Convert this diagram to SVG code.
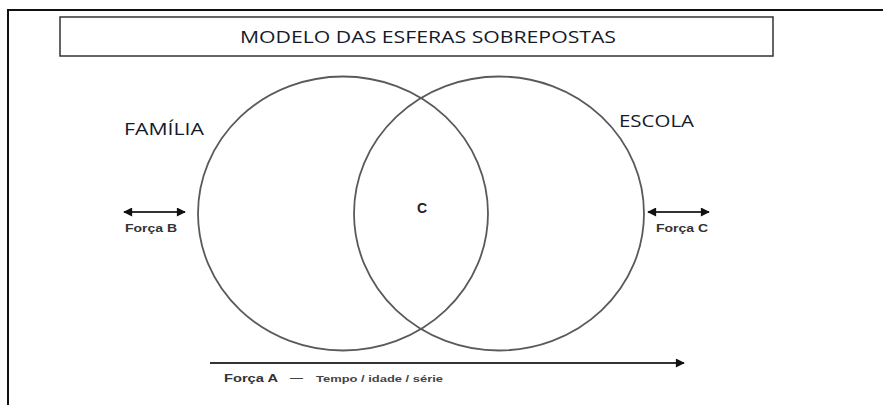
<svg xmlns="http://www.w3.org/2000/svg" width="883" height="405" viewBox="0 0 883 405">
<style>
.frame{fill:none;stroke:#111;stroke-width:2}
.sphere{fill:none;stroke:#5a5a5a;stroke-width:1.8}
.head{font-family:"Open Sans","Liberation Sans",sans-serif;font-size:16px;fill:#141a2a}
.force{font-family:"Liberation Sans",Arial,sans-serif;font-weight:bold;font-size:10px;fill:#333}
.small{font-family:"Liberation Sans",Arial,sans-serif;font-weight:bold;font-size:8.5px;fill:#444}
.conn{stroke:#333;stroke-width:1.8;fill:none}
</style>
<defs>
<marker id="ah" viewBox="0 0 10 10" refX="9" refY="5" markerWidth="6.5" markerHeight="5" orient="auto-start-reverse" markerUnits="strokeWidth">
<path d="M0,0 L10,5 L0,10 z" fill="#111"/>
</marker>
</defs>
<rect width="883" height="405" fill="#fff"/>
<path class="frame" d="M8,405 L8,10 L883,10"/>
<g id="title">
<rect x="60" y="17" width="713" height="39" fill="#fff" stroke="#333" stroke-width="1.5"/>
<text class="head" x="240" y="43" textLength="376" lengthAdjust="spacingAndGlyphs">MODELO DAS ESFERAS SOBREPOSTAS</text>
</g>
<g id="familia">
<ellipse class="sphere" cx="343" cy="213.5" rx="145" ry="137"/>
<text class="head" x="124" y="135" textLength="80" lengthAdjust="spacingAndGlyphs">FAMÍLIA</text>
</g>
<g id="escola">
<ellipse class="sphere" cx="499" cy="213.5" rx="145" ry="137"/>
<text class="head" x="619" y="127" textLength="75" lengthAdjust="spacingAndGlyphs">ESCOLA</text>
</g>
<g id="centro">
<text x="417" y="213" font-family="Liberation Sans,Arial,sans-serif" font-weight="bold" font-size="14" fill="#222">C</text>
</g>
<g id="connectors">
<line class="conn" x1="124" y1="212" x2="185" y2="212" marker-start="url(#ah)" marker-end="url(#ah)"/>
<line class="conn" x1="648" y1="212" x2="709" y2="212" marker-start="url(#ah)" marker-end="url(#ah)"/>
<line class="conn" x1="210" y1="363" x2="684" y2="363" stroke-width="2" marker-end="url(#ah)"/>
</g>
<g id="forca-b">
<text class="force" x="125" y="232" textLength="52" lengthAdjust="spacingAndGlyphs">Força B</text>
</g>
<g id="forca-c">
<text class="force" x="656" y="232" textLength="52" lengthAdjust="spacingAndGlyphs">Força C</text>
</g>
<g id="forca-a">
<text class="force" x="224" y="382" textLength="54" lengthAdjust="spacingAndGlyphs">Força A</text>
<text class="small" x="290" y="381" textLength="13" lengthAdjust="spacingAndGlyphs">—</text>
<text class="small" x="316" y="382" textLength="127" lengthAdjust="spacingAndGlyphs">Tempo / idade / série</text>
</g>
</svg>
